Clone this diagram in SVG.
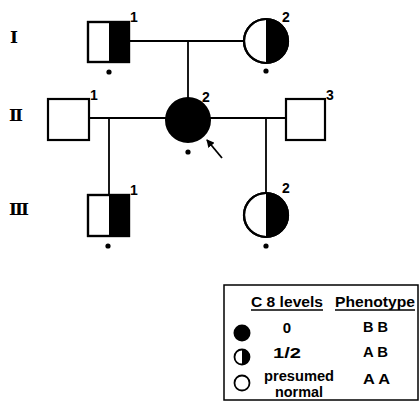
<svg xmlns="http://www.w3.org/2000/svg" width="419" height="405" viewBox="0 0 419 405">
<defs>
<style>
.sym{fill:#fff;stroke:#000;stroke-width:2.2}
.blk{fill:#000}
.ln{stroke:#000;stroke-width:1.8;fill:none}
.num{font-family:"Liberation Sans",Arial,sans-serif;font-weight:bold;font-size:14px;fill:#000}
.gen{font-family:"DejaVu Serif","Liberation Serif",serif;font-weight:bold;font-size:17px;fill:#000;letter-spacing:-2px}
.lg{font-family:"Liberation Sans",Arial,sans-serif;font-weight:bold;font-size:15px;fill:#000}
</style>
<marker id="ah" markerWidth="8" markerHeight="8" refX="7" refY="4" orient="auto" markerUnits="userSpaceOnUse">
<path d="M0,0 L8,4 L0,8 Z" fill="#000"/>
</marker>
</defs>
<rect width="419" height="405" fill="#fff"/>

<g id="generation-labels">
<text class="gen" x="10" y="43">I</text>
<text class="gen" x="9" y="121">II</text>
<text class="gen" x="9" y="215">III</text>
</g>

<g id="connectors">
<line class="ln" x1="129" y1="41" x2="244" y2="41"/>
<line class="ln" x1="188" y1="41" x2="188" y2="98"/>
<line class="ln" x1="89" y1="118" x2="286" y2="118"/>
<line class="ln" x1="109" y1="118" x2="109" y2="195"/>
<line class="ln" x1="266" y1="118" x2="266" y2="193"/>
<line class="ln" x1="222" y1="158" x2="207" y2="140" stroke-width="2.2" marker-end="url(#ah)"/>
</g>

<g id="I-1">
<rect class="sym" x="88" y="22" width="41" height="40"/>
<rect class="blk" x="109" y="22" width="20" height="40"/>
<rect x="88" y="22" width="41" height="40" fill="none" stroke="#000" stroke-width="2.2"/>
<text class="num" x="130" y="22">1</text>
<circle class="blk" cx="109" cy="72" r="2.6"/>
</g>

<g id="I-2">
<circle class="sym" cx="266" cy="41" r="22"/>
<path class="blk" d="M266,19 A22,22 0 0 1 266,63 Z"/>
<circle cx="266" cy="41" r="22" fill="none" stroke="#000" stroke-width="2.2"/>
<text class="num" x="282" y="22">2</text>
<circle class="blk" cx="266" cy="71" r="2.6"/>
</g>

<g id="II-1">
<rect class="sym" x="48" y="99" width="41" height="41"/>
<text class="num" x="90" y="100">1</text>
</g>

<g id="II-2">
<circle cx="188" cy="120" r="22" fill="#000" stroke="#000" stroke-width="2"/>
<text class="num" x="202" y="102">2</text>
<circle class="blk" cx="188" cy="152" r="2.6"/>
</g>

<g id="II-3">
<rect class="sym" x="286" y="99" width="39" height="41"/>
<text class="num" x="326" y="100">3</text>
</g>

<g id="III-1">
<rect class="sym" x="88" y="195" width="41" height="41"/>
<rect class="blk" x="109" y="195" width="20" height="41"/>
<rect x="88" y="195" width="41" height="41" fill="none" stroke="#000" stroke-width="2.2"/>
<text class="num" x="130" y="195">1</text>
<circle class="blk" cx="108" cy="246" r="2.6"/>
</g>

<g id="III-2">
<circle class="sym" cx="266" cy="215" r="22"/>
<path class="blk" d="M266,193 A22,22 0 0 1 266,237 Z"/>
<circle cx="266" cy="215" r="22" fill="none" stroke="#000" stroke-width="2.2"/>
<text class="num" x="282" y="193">2</text>
<circle class="blk" cx="266" cy="246" r="2.6"/>
</g>

<g id="legend">
<rect x="224" y="285" width="194" height="115" fill="none" stroke="#000" stroke-width="1.5"/>
<text class="lg" x="251" y="307" font-size="15.5" textLength="72" lengthAdjust="spacingAndGlyphs">C 8 levels</text>
<line x1="251" y1="310" x2="323" y2="310" stroke="#000" stroke-width="1.3"/>
<text class="lg" x="335" y="307" font-size="15.5" textLength="80" lengthAdjust="spacingAndGlyphs">Phenotype</text>
<line x1="335" y1="310" x2="415" y2="310" stroke="#000" stroke-width="1.3"/>

<circle cx="242" cy="333" r="8.5" fill="#000"/>
<text class="lg" x="287" y="333" text-anchor="middle">0</text>
<text class="lg" x="363" y="332" textLength="25" lengthAdjust="spacingAndGlyphs">B B</text>

<circle cx="242" cy="357" r="7.5" fill="#fff" stroke="#000" stroke-width="1.8"/>
<path d="M242,349.5 A7.5,7.5 0 0 1 242,364.5 Z" fill="#000"/>
<text class="lg" x="273" y="358" textLength="28" lengthAdjust="spacingAndGlyphs">1/2</text>
<text class="lg" x="363" y="357" textLength="25" lengthAdjust="spacingAndGlyphs">A B</text>

<circle cx="242" cy="383" r="7.5" fill="#fff" stroke="#000" stroke-width="1.8"/>
<text class="lg" x="299" y="381" text-anchor="middle" font-size="13" textLength="70" lengthAdjust="spacingAndGlyphs">presumed</text>
<text class="lg" x="299" y="397" text-anchor="middle" font-size="13" textLength="48" lengthAdjust="spacingAndGlyphs">normal</text>
<text class="lg" x="363" y="384" textLength="27" lengthAdjust="spacingAndGlyphs">A A</text>
</g>
</svg>
